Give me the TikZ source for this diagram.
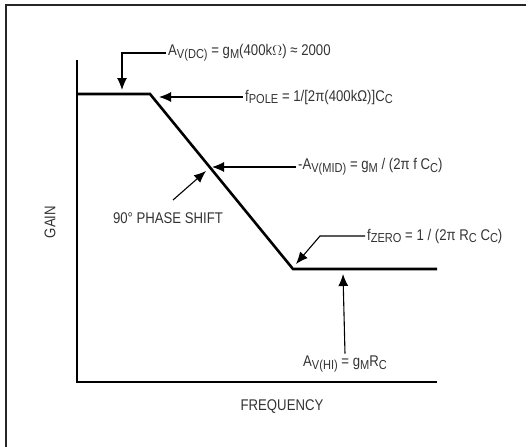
\documentclass[tikz,border=0pt]{standalone}
\usepackage{fontspec}
\setmainfont[FakeStretch=0.85]{Liberation Sans}
\usetikzlibrary{arrows.meta}
\newcommand{\lo}[1]{\raisebox{-0.35ex}{\fontsize{13}{14}\selectfont #1}}
\begin{document}
\begin{tikzpicture}[x=1pt,y=-1pt,
    lbl/.style={draw=none,inner sep=2pt,font=\fontsize{15.5}{17}\selectfont,text=black!80},
    pointer/.style={line width=1.1pt,-{Latex[length=12pt,width=10pt]}},
    curve/.style={line width=2.6pt,line join=miter}]
    \useasboundingbox (0,0) rectangle (531,447);
    % frame
    \draw [line width=1.2pt,black!85] (526,5) -- (6,5) -- (6,447);

    % axes
    \draw [line width=1.1pt] (77,60) -- (77,382) -- (437,382);
    \node [lbl,rotate=90,name=g1] at (50,222) {GAIN};
    \node [lbl,name=f1] at (282,407) {FREQUENCY};

    % gain curve
    \draw [curve] (77,94) -- (150,94) -- (293,269) -- (437,269);

    % dc gain
    \node [lbl,anchor=west,name=a1] at (166,53) {A\lo{V(DC)} = g\lo{M}(400k$\Omega$) ≈ 2000};
    \coordinate (a2) at (122,90);
    \draw [pointer] (a1.west) -- (122,53) -- (a2);

    % pole
    \node [lbl,anchor=west,name=p1] at (243,97) {f\lo{POLE} = 1/[2π(400kΩ)]C\lo{C}};
    \coordinate (p2) at (159,97);
    \draw [pointer] (p1.west) -- (p2);

    % mid band
    \node [lbl,anchor=west,name=m1] at (296,167) {-A\lo{V(MID)} = g\lo{M} / (2π f C\lo{C})};
    \coordinate (m2) at (212,167);
    \draw [pointer] (m1.west) -- (m2);

    % phase shift
    \node [lbl,name=s1] at (168,218) {90° PHASE SHIFT};
    \coordinate (s2) at (173,200);
    \coordinate (s3) at (206,171);
    \draw [pointer] (s2) -- (s3);

    % zero
    \node [lbl,anchor=west,name=z1] at (365,236) {f\lo{ZERO} = 1 / (2π R\lo{C} C\lo{C})};
    \coordinate (z2) at (296,264);
    \draw [pointer] (z1.west) -- (320,236) -- (z2);

    % high frequency gain
    \node [lbl,name=h1] at (345,364) {A\lo{V(HI)} = g\lo{M}R\lo{C}};
    \coordinate (h2) at (343,274);
    \draw [pointer] (h1.north) -- (h2);
\end{tikzpicture}
\end{document}
